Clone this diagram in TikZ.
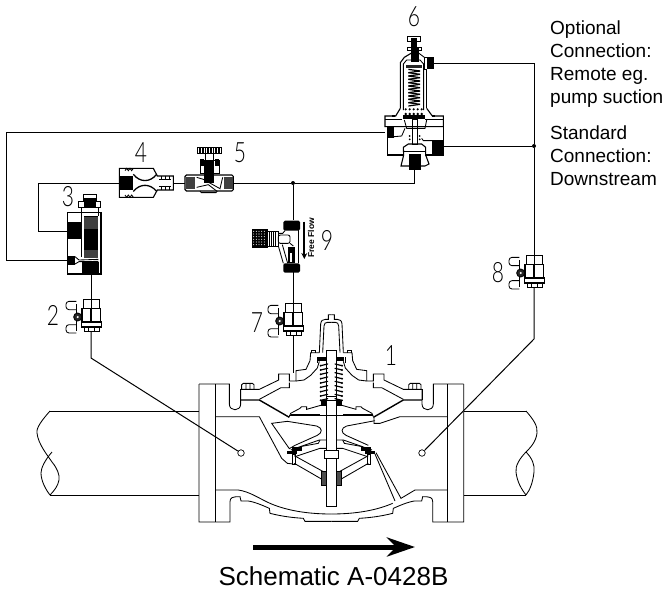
\documentclass[tikz,border=0pt]{standalone}
\usepackage{fontspec}
\usepackage{graphicx}
\usetikzlibrary{arrows.meta}
\setmainfont{Liberation Sans}
\newfontfamily\cadfont{Lato Light}
\tikzset{
  pipe/.style={line width=1pt,draw=black},
  vln/.style={line width=0.85pt,draw=black},
  hv/.style={line width=1.4pt,draw=black},
  blk/.style={fill=black},
  drk/.style={fill=black!80},
  jdot/.style={circle,fill=black,inner sep=0pt,minimum size=4pt},
  tap/.style={circle,draw=black,line width=0.7pt,inner sep=0pt,minimum size=6.5pt},
  digit/.style={inner sep=0pt,font=\cadfont\fontsize{28}{28}\selectfont},
  note/.style={inner sep=0pt,anchor=north west,align=left,font=\fontsize{19}{23}\selectfont}
}
\newcommand{\dg}[1]{\scalebox{0.75}[1]{#1}}
% ball valve: origin at top centre, in 1/3 px units
\newcommand{\ballvalve}[2]{%
 \begin{scope}[shift={(#1,#2)},scale=1/3]
  \draw[vln] (-22,0) rectangle (24,27) (0,0)--(0,27);
  \draw[vln,line width=1.1pt] (-27,29) rectangle (28,69) (0,29)--(0,69);
  \draw[vln,line width=1.1pt] (-29,69) rectangle (32,84);
  \draw[vln] (-20,84) rectangle (24,97) (-8,84)--(-8,97) (10,84)--(10,97);
  \draw[vln,rounded corners=3pt] (-44,7)--(-75,7)--(-75,32)--(-44,32);
  \draw[vln,rounded corners=3pt] (-44,77)--(-75,77)--(-75,102)--(-44,102);
  \draw[vln] (-44,15)--(-44,95);
  \draw[vln,fill=black!85] (-40,54) circle (12);
  \fill[white] (-40,54) circle (3.5);
 \end{scope}}
% half of the main valve, in zoom units (mirror axis x=394)
\newcommand{\valvehalf}{%
  \draw[vln] (-3,252)--(88,252)--(88,312) .. controls (88,335) and (122,335) .. (122,312)--(122,268);
  \draw[vln] (45,252)--(45,666);
  \draw[vln] (-3,252)--(-3,666)--(90,666)--(90,605) .. controls (90,592) and (98,590) .. (120,590)--(123,603)--(145,603) .. controls (165,606) and (190,617) .. (208,625)--(210,640) .. controls (250,650) and (280,653) .. (310,655)--(315,664)--(394,664);
  \draw[vln] (394,642) .. controls (340,642) and (270,636) .. (210,610);
  % bolt
  \draw[vln] (125,268)--(125,254)--(130,250)--(157,250)--(162,254)--(162,268) (138,250)--(138,268) (150,250)--(150,268);
  % cover outer
  \draw[vln] (122,268)--(178,268)--(236,240)--(236,222)--(268,222)--(268,243)--(288,243)--(288,212)--(318,208)--(330,182)--(332,158)--(358,158);
  \draw[vln] (333,160)--(333,152)--(345,152)--(345,160);
  \draw[vln] (122,268)--(122,300);
  \draw[hv] (122,300)--(178,300)--(268,352);
  \draw[vln] (178,298)--(243,263)--(268,263)--(268,248) (288,243)--(312,240)--(332,226)--(352,204)--(358,184);
  % dome
  \draw[vln] (358,158)--(362,72) .. controls (363,62) and (368,58) .. (376,58)--(385,58)--(385,44)--(394,44);
  \draw[vln] (368,158)--(372,78) .. controls (373,70) and (376,67) .. (382,67)--(394,67);
  % spring retainer
  \fill[black] (355,170) rectangle (378,184);
  \draw[vln] (352,188)--(352,172);
  % spring
  \foreach \yy in {192,205,...,296} {
    \draw[line width=1.2pt,line cap=round] (362,\yy+5)--(383,\yy);
    \fill[black] (362,\yy+5) circle (3.2);
  }
  % disc plate
  \draw[hv,line width=1.6pt] (268,347)--(394,347);
  \fill[black] (272,341) rectangle (360,345);
  \draw[vln] (268,350)--(272,340)--(300,325)--(305,320)--(320,320)--(320,328)--(362,316)--(378,316);
  \fill[black] (362,300) rectangle (378,316);
  % stem
  \draw[vln] (378,152)--(394,152) (378,152)--(378,450);
  \draw[vln] (378,290)--(394,290) (378,300)--(394,300);
  \draw[vln] (372,450)--(394,450) (372,450)--(372,475)--(394,475);
  \draw[vln] (378,475)--(378,618)--(394,618);
  % seat disc
  \draw[vln] (378,420)--(358,420)--(272,450);
  \draw[vln] (378,445)--(360,445)--(285,470);
  \draw[vln] (300,440)--(355,430)--(360,420);
  \fill[black] (262,452) rectangle (292,462);
  \fill[black] (275,440) rectangle (305,452);
  \draw[vln] (277,462) rectangle (286,493);
  \draw[vln] (283,467)--(372,516);
  \draw[vln] (283,490)--(366,538);
  \draw[vln,fill=black!70] (365,515) rectangle (378,556);
}
\begin{document}
\begin{tikzpicture}[x=1pt,y=-1pt]
\useasboundingbox (0,0) rectangle (666,590);

% ---------- main valve
\begin{scope}[shift={(200,300)},scale=1/3]
  \valvehalf
  % left body wall and chamber
  \draw[vln] (45,350)--(178,350)--(245,475)--(262,490)--(280,492);
  \draw[vln] (45,570)--(115,570) .. controls (150,575) and (180,597) .. (210,610);
  \draw[vln] (215,370)--(262,364)--(350,378) .. controls (368,384) and (368,398) .. (352,406)--(285,436)--(268,446)--cycle;
  % right body wall and chamber
  \draw[vln] (743,350)--(600,350)--(540,370)--(522,370)--(522,352);
  \draw[vln] (525,462)--(585,603);
  \draw[vln] (528,458)--(603,595)--(645,570)--(743,570);
  \draw[vln] (525,362)--(440,378) .. controls (422,384) and (422,398) .. (438,406)--(505,436);
\end{scope}
\begin{scope}[shift={(462.67,300)},xscale=-1/3,yscale=1/3]
  \valvehalf
\end{scope}

% ---------- pipe stubs
\draw[pipe] (50,411)--(199,411) (50,495)--(199,495);
\draw[vln] (50,411) .. controls (42,420) and (36,428) .. (37,433) .. controls (38,444) and (48,456) .. (52,462) .. controls (57,468) and (60,475) .. (59,480) .. controls (58,486) and (54,491) .. (50,495);
\draw[vln] (52,452) .. controls (45,460) and (41,468) .. (41,473) .. controls (41,481) and (46,490) .. (50,495);
\draw[pipe] (464,411)--(526,411) (464,495)--(526,495);
\draw[vln] (526,411) .. controls (533,419) and (538,426) .. (537,433) .. controls (536,442) and (530,448) .. (526,452) .. controls (520,458) and (515,466) .. (516,472) .. controls (517,482) and (522,490) .. (526,495);
\draw[vln] (526,452) .. controls (532,458) and (535,465) .. (534,472) .. controls (533,482) and (530,490) .. (526,495);

% ---------- ball valves
\ballvalve{91}{299}
\ballvalve{293}{303}
\ballvalve{534}{255}

% ---------- block 3 (zoom origin 55,190)
\begin{scope}[shift={(55,190)},scale=1/3]
  \draw[vln,line width=1.1pt] (37,68) rectangle (138,252);
  \draw[vln] (70,35) rectangle (137,52);
  \draw[vln,fill=white] (85,13) rectangle (125,35);
  \fill[black] (88,24) rectangle (122,50);
  \draw[vln] (78,52)--(78,200) (130,52)--(130,78);
  \fill[black] (86,78) rectangle (130,205);
  \fill[black!75] (86,82) rectangle (130,118);
  \fill[black!75] (86,180) rectangle (130,205);
  \fill[black] (37,97) rectangle (78,148);
  \fill[black] (37,197) rectangle (60,225);
  \draw[vln] (60,200)--(72,210)--(130,208) (60,222)--(72,215)--(130,214);
  \fill[black] (82,216) rectangle (131,251);
\end{scope}

% ---------- orifice 4 (zoom origin 0,90)
\begin{scope}[shift={(0,90)},scale=1/3]
  \draw[vln,line width=1.1pt] (358,235)--(460,235)--(472,258)--(520,258)--(520,300)--(472,300)--(460,322)--(358,322)--cycle;
  \fill[black] (360,257) rectangle (398,300);
  \draw[vln] (375,242)--(380,235)--(385,242)--(390,235)--(395,242)--(400,235);
  \draw[vln] (375,315)--(380,322)--(385,315)--(390,322)--(395,315)--(400,322);
  \draw[line width=1.3pt] (400,253) .. controls (420,278) and (450,278) .. (470,253);
  \draw[line width=1.3pt] (400,304) .. controls (420,280) and (450,280) .. (470,304);
  \draw[line width=0.8pt] (478,268)--(514,268) (478,290)--(514,290);
  \foreach \xx in {484,496,508} \draw[line width=0.5pt] (\xx,258)--(\xx,268) (\xx,290)--(\xx,300);
  % needle valve 5
  \draw[vln,line width=1.1pt,rounded corners=1.5pt] (555,255) rectangle (700,303);
  \fill[black!75] (559,262) rectangle (586,296);
  \fill[black!75] (672,262) rectangle (698,296);
  \draw[vln] (590,262)--(610,268)--(660,296)--(668,262);
  \draw[vln] (590,292)--(625,284)--(650,303);
  \fill[black] (590,172) rectangle (665,192);
  \foreach \xx in {596,604,...,660} \draw[white,line width=0.4pt] (\xx,174)--(\xx,190);
  \draw[vln] (616,192)--(616,210) (640,192)--(640,210);
  \draw[vln,fill=white] (600,210) rectangle (657,250);
  \fill[black] (612,210) rectangle (642,280);
  \fill[black] (600,208) rectangle (612,228);
  \fill[black] (645,208) rectangle (657,228);
  \draw[vln] (600,303)--(604,308)--(648,308)--(652,303);
\end{scope}

% ---------- check valve 9 (zoom origin 245,210)
\begin{scope}[shift={(245,210)},scale=1/3]
  \fill[black] (20,58) rectangle (68,115);
  \foreach \xx in {26,34,...,62} \foreach \yy in {64,72,...,110} \fill[white] (\xx,\yy) circle (1.6);
  \draw[vln] (68,65) rectangle (100,108);
  \foreach \xx in {74,80,...,96} \draw[line width=0.4pt] (\xx,65)--(\xx,108);
  \fill[black,rounded corners=1.5pt] (115,32) rectangle (165,62);
  \fill[black,rounded corners=1.5pt] (115,160) rectangle (165,188);
  \draw[line width=1.2pt] (160,60)--(160,160);
  \draw[vln] (120,62)--(113,70)--(100,70);
  \draw[vln,rounded corners=2pt] (100,75) rectangle (135,100);
  \draw[vln] (100,108)--(115,160) (112,104)--(128,160) (135,100)--(145,108);
  \fill[black] (128,110) rectangle (150,160);
  \fill[white] (134,128) rectangle (142,155);
  \draw[line width=1.8pt,-{Stealth[length=6pt,width=6pt]}] (178,35)--(178,147);
  \node[inner sep=0pt,rotate=90,font=\bfseries\fontsize{8.5}{9}\selectfont] (freeflow) at (198,84) {Free Flow};
\end{scope}

% ---------- pressure valve 6 (zoom origin 375,30)
\begin{scope}[shift={(375,30)},scale=1/3]
  \draw[vln] (96,18) rectangle (136,34);
  \fill[black] (108,24) rectangle (126,52);
  \fill[black] (98,18) rectangle (108,22);
  \draw[vln] (96,52)--(96,60)--(140,60)--(140,52)--cycle;
  \fill[black] (108,52) rectangle (132,96);
  \draw[vln,line width=1.1pt] (76,235)--(76,98)--(88,82)--(108,70);
  \draw[vln,line width=1.1pt] (155,235)--(155,118);
  \draw[vln] (132,70)--(148,82);
  \draw[vln] (85,240)--(85,102)--(95,90)--(135,90)--(146,102)--(146,240);
  \fill[black] (155,82) rectangle (178,118);
  \draw[vln] (148,82)--(155,82) (148,118)--(155,118) (148,82)--(148,118);
  \fill[black!85] (92,105) rectangle (140,113);
  \foreach \yy in {118,128,...,218} {
    \draw[line width=1.2pt] (100,\yy)--(135,\yy+5);
    \draw[line width=1.2pt] (135,\yy+5)--(100,\yy+10);
  }
  \foreach \xx in {92,104,116,128,140} {\fill[black] (\xx,238) circle (3.5);\fill[black] (\xx,252) circle (4);}
  \fill[black] (85,255) rectangle (150,268);
  \fill[black] (50,255) rectangle (60,262);
  \fill[black] (170,255) rectangle (180,262);
  \draw[vln,line width=1.1pt] (76,235)--(62,258)--(30,258)--(30,290)--(205,290)--(205,258)--(172,258)--(155,235);
  \draw[vln] (30,268)--(80,268) (150,268)--(205,268);
  \draw[vln,line width=1.1pt] (37,290)--(37,375)--(85,375) (205,290)--(205,375)--(150,375);
  \fill[black] (36,290) rectangle (57,325);
  \fill[black] (172,330) rectangle (205,372);
  \draw[vln] (57,320)--(80,318)--(90,295);
  \draw[vln] (88,270)--(95,295)--(150,295)--(155,270);
  \draw[vln] (112,268) rectangle (126,342);
  \foreach \yy in {318,328} {\fill[black] (104,\yy) circle (3);\fill[black] (134,\yy) circle (3);}
  \draw[vln] (172,332)--(145,332)--(140,325);
  \draw[vln,line width=1.1pt] (85,352)--(100,342)--(140,342)--(152,352)--(152,375)--(162,402)--(150,408)--(78,408)--(86,375)--cycle;
  \draw[vln] (88,365)--(150,365);
  \fill[black] (103,372) rectangle (137,420);
\end{scope}

% ---------- connection points
\coordinate (p6top) at (434,63);
\coordinate (p6right) at (443,146);
\coordinate (p6left) at (385,132);
\coordinate (p6bot) at (414,170);
\coordinate (p3a) at (67,260);
\coordinate (p3b) at (67,231);
\coordinate (p3bot) at (91,274);
\coordinate (p4) at (120,183);
\coordinate (p4r) at (173,183);
\coordinate (p5l) at (185,183);
\coordinate (p5r) at (234,183);
\coordinate (p9t) at (293,220);
\coordinate (p9b) at (293,272);
\coordinate (bv2t) at (91,299);
\coordinate (bv2b) at (91,332);
\coordinate (bv7t) at (293,303);
\coordinate (bv7b) at (293,336);
\coordinate (cover) at (293,373);
\coordinate (bv8t) at (534,255);
\coordinate (bv8b) at (534,287);
\node[tap] (tapL) at (241,453) {};
\node[tap] (tapR) at (422,453) {};
\node[jdot] (jA) at (293,183) {};
\node[jdot] (jB) at (534,146) {};

\draw[pipe] (p6left) -- (6,132) -- (6,260) -- (p3a);
\draw[pipe] (p4) -- (38,183) -- (38,231) -- (p3b);
\draw[pipe] (p4r) -- (p5l);
\draw[pipe] (p5r) -- (jA) -- (414,183) -- (p6bot);
\draw[pipe] (jA) -- (p9t);
\draw[pipe] (p9b) -- (bv7t);
\draw[pipe] (bv7b) -- (cover);
\draw[pipe] (p3bot) -- (bv2t);
\draw[pipe] (bv2b) -- (91,358) -- (tapL);
\draw[pipe] (p6top) -- (534,63) -- (jB) -- (bv8t);
\draw[pipe] (p6right) -- (jB);
\draw[pipe] (bv8b) -- (534,339) -- (tapR);

% ---------- flow arrow
\coordinate (flowA) at (253,547);
\coordinate (flowB) at (415,547);
\draw[line width=5pt,-{Stealth[length=28pt,width=19pt,inset=9pt]}] (flowA) -- (flowB);

% ---------- digits
\node[digit] (n1) at (391,356) {\dg{1}};
\node[digit] (n2) at (53,315) {\dg{2}};
\node[digit] (n3) at (68,197) {\dg{3}};
\node[digit] (n4) at (141,153) {\dg{4}};
\node[digit] (n5) at (240,153) {\dg{5}};
\node[digit] (n6) at (414,17) {\dg{6}};
\node[digit] (n7) at (257,323) {\dg{7}};
\node[digit] (n8) at (498,273) {\dg{8}};
\node[digit] (n9) at (327,240) {\dg{9}};

% ---------- notes
\node[note] (opt) at (550,21) {Optional\\Connection:\\Remote eg.\\pump suction};
\node[note] (std) at (550,126) {Standard\\Connection:\\Downstream};
\node[inner sep=0pt,anchor=base,font=\fontsize{26}{28}\selectfont] (title) at (333.5,585) {Schematic A-0428B};
\end{tikzpicture}
\end{document}
